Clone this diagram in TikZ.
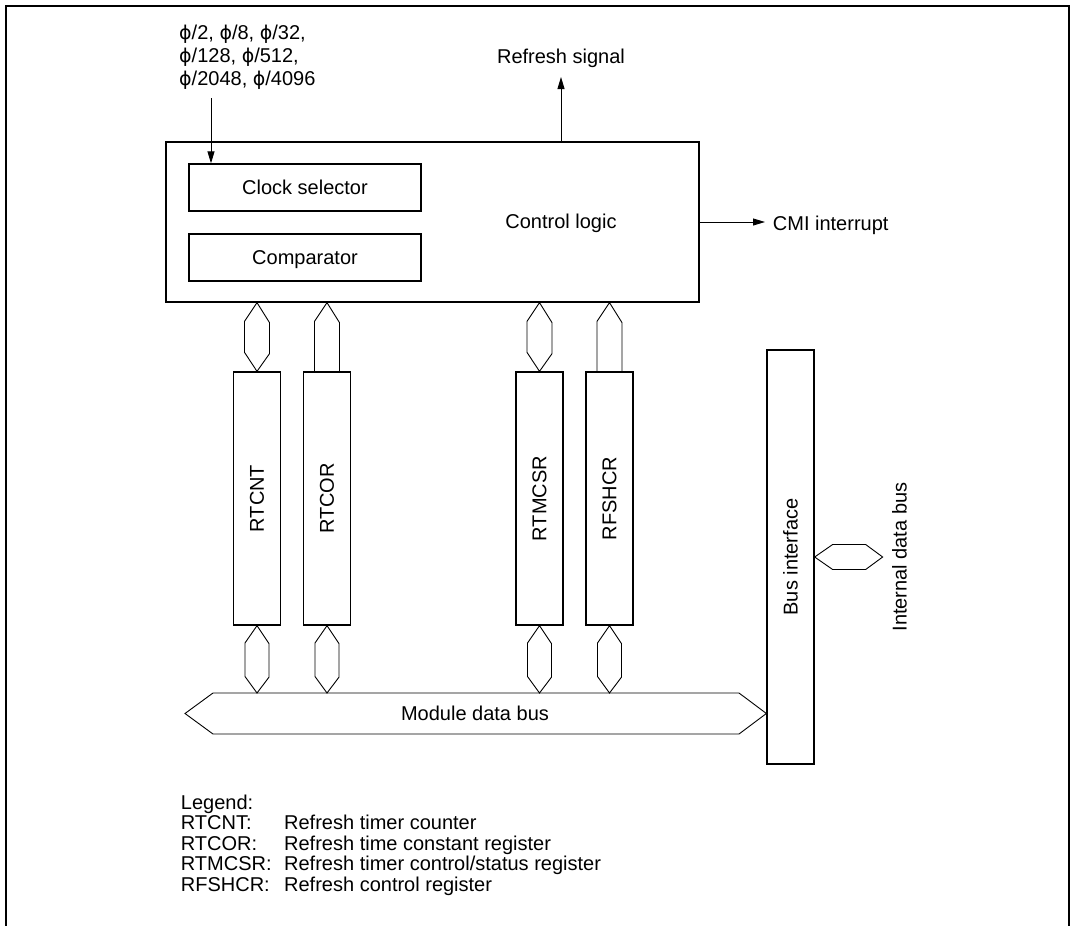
\documentclass[tikz,border=0pt]{standalone}
\usepackage{fontspec}
\setmainfont{Liberation Sans}
\newfontfamily\phifont{DejaVu Sans}
\newcommand\ph{{\phifont\scalebox{0.95}{ϕ}}}
\usetikzlibrary{arrows.meta,calc}
\begin{document}
\begin{tikzpicture}[x=1pt,y=-1pt,
  every node/.style={font=\fontsize{20}{23}\selectfont, inner sep=0pt},
  box/.style={draw, line width=1.3pt, text height=14.3pt, text depth=0pt},
  regbox/.style={draw, line width=1.3pt, minimum width=47pt, minimum height=253pt},
  busline/.style={line width=0.9pt},
  sig/.style={line width=0.9pt, -{Triangle[length=12pt,width=7pt]}},
  frameline/.style={line width=2.2pt}]
\useasboundingbox (0,0) rectangle (1076,926);
% outer frame (open at the bottom)
\draw[frameline] (6,926) -- (6,6) -- (1069,6) -- (1069,926);

% control logic block
\node[draw, line width=1.3pt, minimum width=533pt, minimum height=160pt] (cl) at (432.5,222) {};
\node[anchor=base] (cltxt) at (561,228) {Control logic};
\node[box, minimum width=232pt, minimum height=47pt] (cs) at (305,187.5) {Clock selector};
\node[box, minimum width=232pt, minimum height=47pt] (cmp) at (305,257.5) {Comparator};

% input clocks
\node[anchor=north west, align=left] (inlbl) at (179,25)
  {\ph/2, \ph/8, \ph/32,\\ \ph/128, \ph/512,\\ \ph/2048, \ph/4096};
\coordinate (inp) at (211,98);
\draw[sig] (inp) -- (inp |- cs.north);

% refresh signal
\coordinate (rs) at (561,77);
\draw[sig] (rs |- cl.north) -- (rs);
\node[anchor=base] (rstxt) at (561,63) {Refresh signal};

% CMI interrupt
\coordinate (cmi) at (765,222);
\draw[sig] (cl.east |- cmi) -- (cmi);
\node[anchor=base west] (cmitxt) at (772.7,230) {CMI interrupt};

% registers
\node[regbox] (rtcnt)  at (257,498.5) {};
\node[regbox] (rtcor)  at (327,498.5) {};
\node[regbox] (rtmcsr) at (539.5,498.5) {};
\node[regbox] (rfshcr) at (609.5,498.5) {};
\node[rotate=90] at (rtcnt.center) {RTCNT};
\node[rotate=90] at (rtcor.center) {RTCOR};
\node[rotate=90] at (rtmcsr.center) {RTMCSR};
\node[rotate=90] at (rfshcr.center) {RFSHCR};

% upper connectors
\foreach \r in {rtcnt,rtmcsr}
  \draw[busline] (\r.north) -- ++(-12.5,-19) -- ++(0,-31) -- (\r.north |- cl.south)
     -- ++(12.5,20) -- ++(0,31) -- cycle;
\foreach \r in {rtcor,rfshcr}
  \draw[busline] ($(\r.north)+(-12.5,0)$) -- ++(0,-50) -- (\r.north |- cl.south)
     -- ++(12.5,20) -- ++(0,50);

% module data bus
\coordinate (mdbtop) at (475,693);
\coordinate (mdbmid) at (475,713.5);
\node[draw, line width=1.3pt, minimum width=47pt, minimum height=414pt] (bi) at (790.5,557) {};
\node[rotate=90] at (bi.center) {Bus interface};
\draw[busline] (185,713.5) -- (213,693) -- (739,693) -- (bi.west |- mdbmid)
   -- (739,734) -- (213,734) -- cycle;
\node (mdb) at (mdbmid) {Module data bus};

% lower connectors
\foreach \r in {rtcnt,rtcor,rtmcsr,rfshcr}
  \draw[busline] (\r.south) -- ++(12,18) -- ++(0,33.5) -- (\r.south |- mdbtop)
     -- ++(-12,-16.5) -- ++(0,-33.5) -- cycle;

% internal data bus
\draw[busline] (bi.east) -- ++(18,-12.5) -- ++(33,0) -- ++(17,12.5)
   -- ++(-17,12.5) -- ++(-33,0) -- cycle;
\node[rotate=90] (idb) at (899.5,557) {Internal data bus};

% legend
\node[anchor=base west, font=\fontsize{20}{20.5}\selectfont] (legend) at (180.7,809)
 {\begin{tabular}[t]{@{}l@{}l@{}}
  \multicolumn{2}{@{}l@{}}{Legend:}\\
  \makebox[103.3pt][l]{RTCNT:} & Refresh timer counter\\
  \makebox[103.3pt][l]{RTCOR:} & Refresh time constant register\\
  \makebox[103.3pt][l]{RTMCSR:} & Refresh timer control/status register\\
  \makebox[103.3pt][l]{RFSHCR:} & Refresh control register
 \end{tabular}};
\end{tikzpicture}
\end{document}
